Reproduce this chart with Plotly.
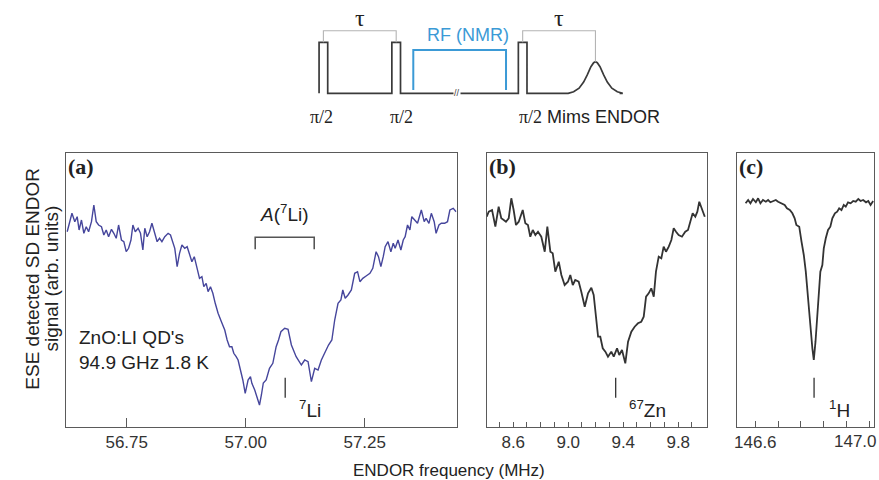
import plotly.graph_objects as go

# ---------------- spectra ----------------
# (a) 7Li Mims ENDOR, ZnO:Li quantum dots
freq_a = [56.625, 56.635, 56.641, 56.646, 56.650, 56.655, 56.660, 56.665, 56.670, 56.676,
          56.681, 56.686, 56.691, 56.697, 56.702, 56.707, 56.712, 56.718, 56.723, 56.728,
          56.733, 56.739, 56.744, 56.749, 56.754, 56.759, 56.763, 56.768, 56.774, 56.779,
          56.784, 56.788, 56.793, 56.798, 56.803, 56.809, 56.814, 56.819, 56.824, 56.830,
          56.837, 56.842, 56.847, 56.851, 56.856, 56.861, 56.866, 56.872, 56.877, 56.882,
          56.887, 56.892, 56.898, 56.903, 56.908, 56.912, 56.917, 56.921, 56.926, 56.931,
          56.936, 56.942, 56.949, 56.956, 56.961, 56.966, 56.971, 56.975, 56.980, 56.984,
          56.989, 56.994, 56.999, 57.005, 57.010, 57.013, 57.019, 57.024, 57.029, 57.033,
          57.037, 57.043, 57.050, 57.057, 57.064, 57.069, 57.074, 57.082, 57.089, 57.096,
          57.106, 57.117, 57.124, 57.131, 57.138, 57.145, 57.152, 57.159, 57.166, 57.174,
          57.181, 57.187, 57.194, 57.200, 57.204, 57.209, 57.215, 57.222, 57.229, 57.235,
          57.240, 57.246, 57.253, 57.261, 57.267, 57.274, 57.279, 57.284, 57.289, 57.293,
          57.299, 57.305, 57.310, 57.314, 57.320, 57.326, 57.331, 57.335, 57.340, 57.345,
          57.349, 57.355, 57.361, 57.369, 57.375, 57.379, 57.385, 57.390, 57.396, 57.400,
          57.406, 57.411, 57.418, 57.424, 57.429, 57.436, 57.442]
sig_a = [195.0, 213.4, 205.0, 210.0, 196.7, 206.7, 193.4, 200.0, 195.0, 205.0,
         221.7, 205.0, 201.7, 200.0, 191.7, 196.7, 190.0, 197.4, 193.4, 188.4,
         201.7, 186.7, 185.0, 175.0, 178.4, 186.7, 201.7, 195.0, 198.4, 193.4,
         176.7, 198.4, 190.0, 195.0, 203.4, 193.4, 185.0, 188.4, 185.0, 190.0,
         193.4, 191.7, 183.4, 178.4, 160.0, 173.4, 181.7, 178.4, 180.0, 173.4,
         165.0, 170.0, 156.7, 148.4, 150.0, 140.0, 143.4, 135.0, 140.0, 133.4,
         123.4, 113.4, 105.0, 96.7, 86.7, 80.0, 80.0, 73.4, 70.0, 66.7,
         56.7, 46.7, 33.4, 46.7, 50.0, 43.4, 36.7, 28.4, 21.7, 31.7,
         43.7, 46.7, 58.4, 63.4, 80.0, 86.7, 95.0, 98.4, 97.4, 81.7,
         70.0, 61.7, 66.7, 65.0, 45.0, 58.4, 56.7, 66.7, 73.4, 81.7,
         86.7, 106.7, 123.4, 126.7, 136.7, 128.4, 131.7, 136.7, 153.4, 155.0,
         145.0, 148.4, 150.7, 153.4, 158.4, 175.0, 170.0, 160.0, 170.0, 180.0,
         185.0, 175.0, 183.4, 178.4, 186.7, 176.7, 186.7, 190.0, 201.7, 196.7,
         210.0, 206.7, 203.4, 216.7, 205.0, 208.4, 203.4, 213.4, 205.0, 193.4,
         201.7, 203.4, 203.4, 205.0, 216.7, 218.4, 215.0]

# (b) 67Zn Mims ENDOR
freq_b = [8.407, 8.422, 8.446, 8.470, 8.494, 8.513, 8.531, 8.547, 8.567, 8.586,
          8.603, 8.620, 8.640, 8.669, 8.688, 8.707, 8.724, 8.742, 8.761, 8.780,
          8.804, 8.829, 8.848, 8.870, 8.887, 8.906, 8.931, 8.950, 8.974, 8.998,
          9.015, 9.033, 9.051, 9.076, 9.095, 9.120, 9.144, 9.168, 9.185, 9.202,
          9.217, 9.233, 9.251, 9.270, 9.289, 9.313, 9.331, 9.355, 9.371, 9.391,
          9.415, 9.435, 9.459, 9.483, 9.507, 9.531, 9.549, 9.566, 9.585, 9.604,
          9.622, 9.638, 9.658, 9.677, 9.694, 9.711, 9.731, 9.750, 9.767, 9.784,
          9.803, 9.827, 9.851, 9.871, 9.888, 9.905, 9.924, 9.939, 9.953, 9.973,
          9.993]
sig_b = [210.0, 215.0, 216.7, 200.0, 220.0, 208.4, 206.7, 205.0, 208.4, 228.4,
         216.7, 201.7, 205.0, 216.7, 203.4, 201.7, 190.0, 196.7, 191.7, 195.0,
         190.0, 175.0, 200.0, 175.0, 173.4, 155.0, 165.0, 151.7, 141.7, 145.0,
         151.7, 141.7, 146.7, 145.0, 135.0, 120.0, 133.4, 139.0, 131.7, 111.7,
         90.0, 90.0, 78.4, 75.0, 70.0, 75.0, 70.0, 78.4, 71.7, 76.7,
         63.4, 85.0, 95.0, 100.0, 103.4, 105.0, 110.0, 130.0, 133.4, 138.4,
         130.0, 155.0, 170.0, 168.4, 180.0, 175.0, 180.0, 186.7, 198.4, 195.0,
         191.7, 190.0, 195.0, 196.7, 206.7, 213.4, 210.0, 215.0, 225.0, 216.7,
         210.0]

# (c) 1H Mims ENDOR
freq_c = [146.566, 146.575, 146.583, 146.592, 146.602, 146.610, 146.618, 146.627, 146.637, 146.645,
          146.653, 146.662, 146.672, 146.680, 146.691, 146.703, 146.711, 146.721, 146.730, 146.738,
          146.744, 146.754, 146.762, 146.770, 146.777, 146.785, 146.793, 146.800, 146.805, 146.811,
          146.817, 146.824, 146.828, 146.835, 146.840, 146.847, 146.855, 146.863, 146.870, 146.879,
          146.887, 146.894, 146.902, 146.910, 146.917, 146.925, 146.934, 146.943, 146.952, 146.961,
          146.969, 146.978, 146.988, 146.996, 147.004, 147.013]
sig_c = [223.4, 226.7, 223.4, 227.7, 224.4, 228.4, 223.4, 226.7, 225.0, 226.7,
         224.4, 225.7, 226.7, 225.0, 223.4, 221.7, 218.4, 216.7, 213.4, 208.4,
         201.7, 200.0, 185.0, 171.7, 155.0, 131.7, 101.7, 78.4, 66.7, 85.0,
         111.7, 138.4, 155.0, 161.7, 178.4, 188.4, 196.7, 200.0, 208.4, 213.4,
         215.0, 218.4, 216.7, 221.7, 220.0, 224.4, 223.4, 225.7, 225.0, 227.7,
         225.7, 226.7, 224.4, 225.7, 221.7, 225.7]

# nuclear Larmor frequencies and the 7Li hyperfine splitting
li7_larmor = 57.083
zn67_larmor = 9.345
h1_larmor = 146.806
a_li7 = (57.020, 57.144)

# axis ranges (MHz) and tick labels
range_a = [56.6225, 57.4433]
range_b = [8.407, 10.007]
range_c = [146.537, 147.016]
ticks_a = [56.75, 57.00, 57.25]
ticks_b = [8.6, 9.0, 9.4, 9.8]
ticks_c = [146.6, 147.0]
sig_range = [0, 274]

# ---------------- Mims ENDOR pulse sequence (time in pulse widths) ----------------
pulse_centers = [0.45, 8.45, 22.35]
pulse_width = 0.95
tau = 8.0
rf_window = (10.33, 20.52)
echo_dt = [-3.0, -2.4, -1.8, -1.3, -0.9, -0.5, -0.2, 0.0, 0.2, 0.5, 0.9, 1.3, 1.8, 2.4, 3.0]
echo_amp = [0.0, 0.03, 0.10, 0.22, 0.36, 0.52, 0.60, 0.62, 0.60, 0.52, 0.36, 0.22, 0.10, 0.03, 0.0]
seq_end = 33.0

INK = "#333333"
FRAME = "#5a5a5a"
BLUE_LINE = "#46469c"
RF_BLUE = "#3b9ad6"
SANS = "Liberation Sans, Arial, sans-serif"
SERIF = "Liberation Serif, Times New Roman, serif"

fig = go.Figure()

# spectra
fig.add_trace(go.Scatter(x=freq_a, y=sig_a, mode="lines", xaxis="x", yaxis="y",
                         line=dict(color=BLUE_LINE, width=1.4), hoverinfo="skip"))
fig.add_trace(go.Scatter(x=freq_b, y=sig_b, mode="lines", xaxis="x2", yaxis="y2",
                         line=dict(color=INK, width=1.8), hoverinfo="skip"))
fig.add_trace(go.Scatter(x=freq_c, y=sig_c, mode="lines", xaxis="x3", yaxis="y3",
                         line=dict(color=INK, width=1.8), hoverinfo="skip"))

# Larmor markers
marker_lo, marker_hi = 29.0, 49.0
for xa, ya, f in [("x", "y", li7_larmor), ("x2", "y2", zn67_larmor), ("x3", "y3", h1_larmor)]:
    fig.add_trace(go.Scatter(x=[f, f], y=[marker_lo, marker_hi], mode="lines",
                             xaxis=xa, yaxis=ya, line=dict(color=INK, width=1.3),
                             hoverinfo="skip"))

# hyperfine bracket A(7Li)
br_lo, br_hi = 177.4, 189.4
fig.add_trace(go.Scatter(x=[a_li7[0], a_li7[0], a_li7[1], a_li7[1]],
                         y=[br_lo, br_hi, br_hi, br_lo], mode="lines",
                         xaxis="x", yaxis="y", line=dict(color="#555555", width=1.6),
                         hoverinfo="skip"))

# pulse sequence
seq_x, seq_y = [], []
for c in pulse_centers:
    l, r = c - pulse_width / 2, c + pulse_width / 2
    seq_x += [l, l, r, r]
    seq_y += [0, 1, 1, 0]
echo_t = pulse_centers[2] + tau
seq_x += [echo_t + d for d in echo_dt] + [seq_end]
seq_y += echo_amp + [0]
fig.add_trace(go.Scatter(x=seq_x, y=seq_y, mode="lines", xaxis="x4", yaxis="y4",
                         line=dict(color="#3a3a3a", width=1.7), hoverinfo="skip"))

tau_level = 1.227
fig.add_trace(go.Scatter(x=[pulse_centers[0], pulse_centers[0], pulse_centers[1], pulse_centers[1]],
                         y=[1, tau_level, tau_level, 1], mode="lines", xaxis="x4", yaxis="y4",
                         line=dict(color="#b4b4b4", width=1.1), hoverinfo="skip"))
fig.add_trace(go.Scatter(x=[pulse_centers[2], pulse_centers[2], echo_t, echo_t],
                         y=[1, tau_level, tau_level, max(echo_amp)], mode="lines",
                         xaxis="x4", yaxis="y4",
                         line=dict(color="#b4b4b4", width=1.1), hoverinfo="skip"))
rf_lo, rf_hi = 0.065, 0.85
fig.add_trace(go.Scatter(x=[rf_window[0], rf_window[0], rf_window[1], rf_window[1]],
                         y=[rf_lo, rf_hi, rf_hi, rf_lo], mode="lines", xaxis="x4", yaxis="y4",
                         line=dict(color=RF_BLUE, width=2), hoverinfo="skip"))

# ---------------- axes ----------------
W, H = 879, 480
def px_x(p):
    return p / W
def px_y(p):
    return (H - p) / H

ydom = [px_y(426.7), px_y(152.7)]
frame = dict(showline=True, linecolor=FRAME, linewidth=1, mirror=True,
             showgrid=False, zeroline=False, automargin=False)
tickfont = dict(family=SANS, size=17, color=INK)

# the last label of panel (c) sits at the page edge; it is right-aligned separately
ticktext_c = [f"{v:.1f}" for v in ticks_c[:-1]] + [""]

fig.update_layout(
    width=W, height=H, margin=dict(l=0, r=0, t=0, b=0, autoexpand=False),
    paper_bgcolor="white", plot_bgcolor="white", showlegend=False,
    xaxis=dict(domain=[px_x(66), px_x(456.7)], range=range_a, anchor="y",
               tickmode="array", tickvals=ticks_a,
               ticktext=[f"{v:.2f}" for v in ticks_a],
               ticks="inside", ticklen=9, tickcolor=FRAME, tickfont=tickfont, **frame),
    yaxis=dict(domain=ydom, range=sig_range, anchor="x", showticklabels=False,
               ticks="", **frame),
    xaxis2=dict(domain=[px_x(486.7), px_x(706.7)], range=range_b, anchor="y2",
                tickmode="array", tickvals=ticks_b,
                ticktext=[f"{v:.1f}" for v in ticks_b],
                ticks="inside", ticklen=5, tickcolor=FRAME, tickfont=tickfont,
                minor=dict(ticks="inside", ticklen=5, dtick=0.1, tick0=8.6,
                           tickcolor=FRAME, showgrid=False),
                **frame),
    yaxis2=dict(domain=ydom, range=sig_range, anchor="x2", showticklabels=False,
                ticks="", **frame),
    xaxis3=dict(domain=[px_x(737.3), px_x(874)], range=range_c, anchor="y3",
                tickmode="array", tickvals=ticks_c, ticktext=ticktext_c,
                ticks="inside", ticklen=6, tickcolor=FRAME, tickfont=tickfont,
                minor=dict(ticks="inside", ticklen=6, dtick=0.08, tick0=146.6,
                           tickcolor=FRAME, showgrid=False),
                **frame),
    yaxis3=dict(domain=ydom, range=sig_range, anchor="x3", showticklabels=False,
                ticks="", **frame),
    xaxis4=dict(domain=[0, 1], range=[-35.09, 61.51], anchor="y4", visible=False,
                automargin=False),
    yaxis4=dict(domain=[px_y(135), 1], range=[-0.818, 1.829], anchor="x4", visible=False,
                automargin=False),
)

ann = []
ann.append(dict(xref="paper", yref="paper", x=1.0, y=px_y(441.5), xanchor="right",
                yanchor="middle", text=f"{ticks_c[-1]:.1f}", showarrow=False,
                font=tickfont))
# panel letters
for xd, yd, txt in [("x domain", "y domain", "(a)"), ("x2 domain", "y2 domain", "(b)"),
                    ("x3 domain", "y3 domain", "(c)")]:
    ann.append(dict(xref=xd, yref=yd, x=0.0, y=0.95, xanchor="left", yanchor="middle",
                    text=f"<b>{txt}</b>", showarrow=False,
                    font=dict(family=SERIF, size=22, color="#222222")))
# sample conditions
ann.append(dict(xref="x", yref="y", x=56.645, y=77, xanchor="left", yanchor="middle",
                text="ZnO:LI QD's<br>94.9 GHz 1.8 K", align="left", showarrow=False,
                font=dict(family=SANS, size=19, color="#222222")))
# hyperfine label
ann.append(dict(xref="x", yref="y", x=sum(a_li7) / 2, y=214, xanchor="center", yanchor="middle",
                text="<i>A</i>(<sup>7</sup>Li)", showarrow=False,
                font=dict(family=SANS, size=19, color="#222222")))
# nucleus labels
for xr, yr, x, txt in [("x", "y", 57.107, "<sup>7</sup>Li"), ("x2", "y2", 9.425, "<sup>67</sup>Zn"),
                       ("x3", "y3", 146.851, "<sup>1</sup>H")]:
    ann.append(dict(xref=xr, yref=yr, x=x, y=18, xanchor="left", yanchor="middle",
                    text=txt, showarrow=False,
                    font=dict(family=SANS, size=19, color="#222222")))
# axis titles
ann.append(dict(xref="paper", yref="paper", x=px_x(448.5), y=px_y(470), xanchor="center",
                yanchor="middle", text="ENDOR frequency (MHz)", showarrow=False,
                font=dict(family=SANS, size=17, color="#222222")))
ann.append(dict(xref="paper", yref="paper", x=px_x(31.7), y=px_y(279), xanchor="center",
                yanchor="middle", text="ESE detected SD ENDOR", textangle=-90, showarrow=False,
                font=dict(family=SANS, size=19, color="#222222")))
ann.append(dict(xref="paper", yref="paper", x=px_x(50.5), y=px_y(279), xanchor="center",
                yanchor="middle", text="signal (arb. units)", textangle=-90, showarrow=False,
                font=dict(family=SANS, size=19, color="#222222")))
# pulse sequence labels
ann.append(dict(xref="x4", yref="y4", x=(pulse_centers[0] + pulse_centers[1]) / 2, y=1.47,
                text="τ", showarrow=False, font=dict(family=SERIF, size=24, color="#222222")))
ann.append(dict(xref="x4", yref="y4", x=(pulse_centers[2] + echo_t) / 2, y=1.47,
                text="τ", showarrow=False, font=dict(family=SERIF, size=24, color="#222222")))
ann.append(dict(xref="x4", yref="y4", x=16.37, y=1.14, text="RF (NMR)", showarrow=False,
                font=dict(family=SANS, size=18, color=RF_BLUE)))
ann.append(dict(xref="x4", yref="y4", x=15.1, y=0, text="//", showarrow=False,
                bgcolor="white", borderpad=0,
                font=dict(family=SANS, size=9, color="#3a3a3a")))
for x in [pulse_centers[0] - 0.2, pulse_centers[1] + 0.6]:
    ann.append(dict(xref="x4", yref="y4", x=x, y=-0.46, text="π/2", showarrow=False,
                    font=dict(family=SERIF, size=18, color="#222222")))
ann.append(dict(xref="x4", yref="y4", x=21.7, y=-0.46, xanchor="left", yanchor="middle",
                text="<span style='font-family:Liberation Serif'>π/2</span> Mims ENDOR",
                showarrow=False, font=dict(family=SANS, size=18, color="#222222")))
fig.update_layout(annotations=ann)

fig.write_html("out.html")
